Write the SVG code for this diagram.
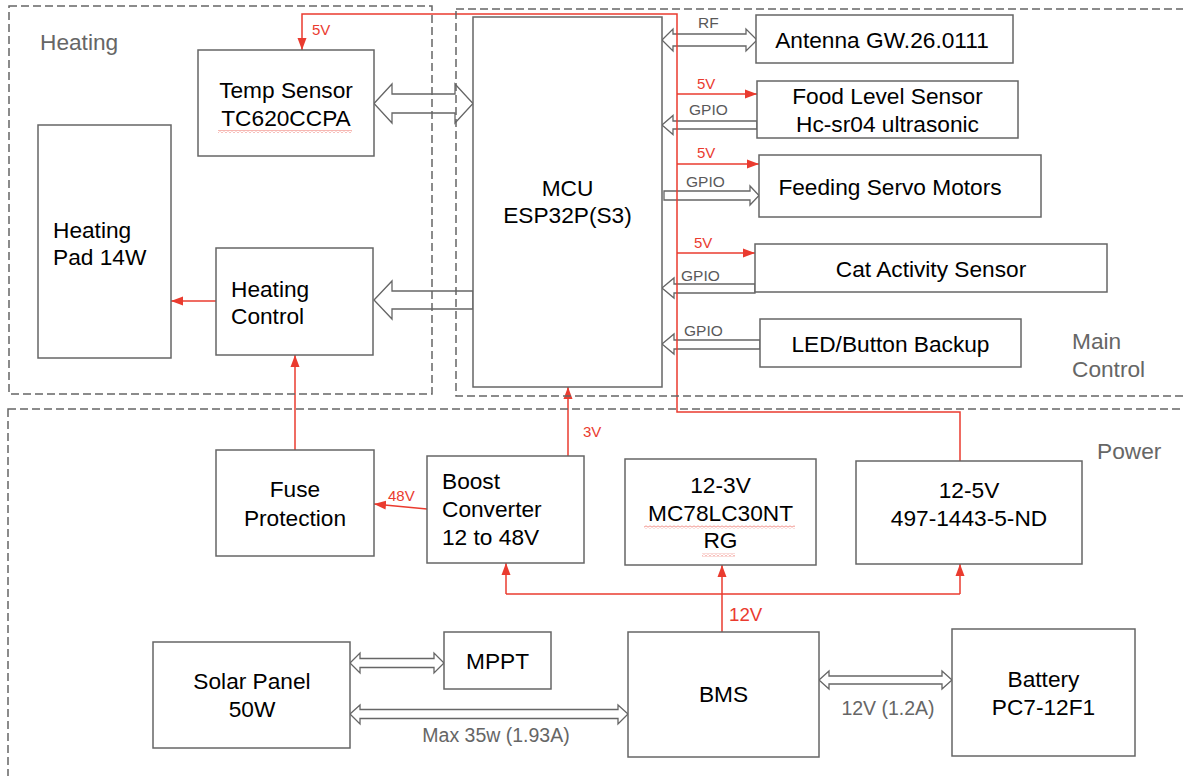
<svg xmlns="http://www.w3.org/2000/svg" width="1183" height="776" viewBox="0 0 1183 776">
<style>
text{font-family:"Liberation Sans",Arial,sans-serif}
.box{fill:#fff;stroke:#666;stroke-width:1.5}
.t{font-size:22.7px;fill:#000;text-anchor:middle}
.tl{font-size:22.7px;fill:#000}
.region{fill:none;stroke:#666;stroke-width:1.5;stroke-dasharray:8,4}
.title{font-size:22.7px;fill:#666}
.hollow{fill:#fff;stroke:#666;stroke-width:1.3;stroke-linejoin:miter}
.red{fill:none;stroke:#ea3b2f;stroke-width:1.5}
.ra{fill:none;stroke:#ea3b2f;stroke-width:1.5;marker-end:url(#ah)}
.rl{font-size:15px;fill:#ea3b2f}
.gl{font-size:15.5px;fill:#595959}
.gl2{font-size:19.5px;fill:#666}
.sq{fill:url(#squig)}
</style>
<defs>
<marker id="ah" markerUnits="userSpaceOnUse" markerWidth="13" markerHeight="10" refX="12" refY="5" orient="auto">
<path d="M0,0.5 L12,5 L0,9.5 z" fill="#ea3b2f"/>
</marker>
<pattern id="squig" patternUnits="userSpaceOnUse" width="4" height="3">
<path d="M0,2.5 L2,0.5 L4,2.5" fill="none" stroke="#e84a3d" stroke-width="0.8"/>
</pattern>
</defs>
<rect width="1183" height="776" fill="#fff"/>

<g id="connectors">
<polygon class="hollow" points="374,103.5 392,84 392,94 455,94 455,84 473,103.5 455,123 455,113 392,113 392,123"/>
<polygon class="hollow" points="374,300 392,281 392,291 473,291 473,309 392,309 392,319"/>
<polygon class="hollow" points="662,40 673,29 673,34 746,34 746,29 757,40 746,51 746,46 673,46 673,51"/>
<polygon class="hollow" points="662,125 673,115.5 673,121 757,121 757,129 673,129 673,134.5"/>
<polygon class="hollow" points="664,191 750,191 750,186 759,195.5 750,205 750,200 664,200"/>
<polygon class="hollow" points="662,288 674,278 674,284 755,284 755,293 674,293 674,298"/>
<polygon class="hollow" points="662,344 674,334 674,340 760,340 760,349 674,349 674,354"/>
<polygon class="hollow" points="350,663 360,653 360,658.5 434,658.5 434,653 444,663 434,673 434,667.5 360,667.5 360,673"/>
<polygon class="hollow" points="350,714 360,705 360,709.5 618,709.5 618,705 628,714 618,724 618,718.5 360,718.5 360,724"/>
<polygon class="hollow" points="819,680 829,671 829,676 942,676 942,671 952,680 942,689 942,684 829,684 829,689"/>

<path class="ra" d="M960,461 L960,412 L677,412 L677,14 L302,14 L302,50"/>
<path class="ra" d="M677,94 L757,94"/>
<path class="ra" d="M677,164 L759,164"/>
<path class="ra" d="M677,253 L755,253"/>
<path class="ra" d="M216,301 L171,301"/>
<path class="ra" d="M295,450 L295,355"/>
<path class="ra" d="M427,509 L374,504"/>
<path class="ra" d="M568,456 L568,387"/>
<path class="ra" d="M722,632 L722,565"/>
<path class="red" d="M506,594 L960,594"/>
<path class="ra" d="M506,594 L506,563"/>
<path class="ra" d="M960,594 L960,564"/>

<text class="rl" x="312" y="35">5V</text>
<text class="gl" x="698" y="28">RF</text>
<text class="rl" x="697" y="89">5V</text>
<text class="gl" x="689" y="115">GPIO</text>
<text class="rl" x="697" y="158">5V</text>
<text class="gl" x="686" y="187">GPIO</text>
<text class="rl" x="694" y="248">5V</text>
<text class="gl" x="681" y="281">GPIO</text>
<text class="gl" x="684" y="336">GPIO</text>
<text class="rl" x="583" y="437">3V</text>
<text class="rl" x="388" y="501">48V</text>
<text class="rl" x="729" y="621" style="font-size:18.7px">12V</text>
<text class="gl2" x="496" y="742" text-anchor="middle">Max 35w (1.93A)</text>
<text class="gl2" x="888" y="715" text-anchor="middle">12V (1.2A)</text>
</g>

<g id="regions">
<rect class="region" x="9" y="6" width="423" height="388"/>
<rect class="region" x="456" y="9" width="740" height="387"/>
<rect class="region" x="8" y="409" width="1190" height="380"/>
<text class="title" x="40" y="50">Heating</text>
<text class="title" x="1072" y="349">Main</text>
<text class="title" x="1072" y="377">Control</text>
<text class="title" x="1097" y="459">Power</text>
</g>

<g id="temp-sensor">
<rect class="box" x="198" y="50" width="176" height="106"/>
<text class="t" x="286" y="98">Temp Sensor</text>
<text class="t" x="286" y="126">TC620CCPA</text>
<rect class="sq" x="218" y="130" width="134" height="3"/>
</g>
<g id="heating-pad">
<rect class="box" x="38" y="125" width="133" height="233"/>
<text class="tl" x="53" y="238">Heating</text>
<text class="tl" x="53" y="265">Pad 14W</text>
</g>
<g id="heating-control">
<rect class="box" x="216" y="248" width="157" height="107"/>
<text class="tl" x="231" y="297">Heating</text>
<text class="tl" x="231" y="324">Control</text>
</g>
<g id="mcu">
<rect class="box" x="473" y="17" width="189" height="370"/>
<text class="t" x="567.5" y="196">MCU</text>
<text class="t" x="567.5" y="223">ESP32P(S3)</text>
</g>
<g id="antenna">
<rect class="box" x="756" y="15" width="257" height="48"/>
<text class="t" x="882" y="48">Antenna GW.26.0111</text>
</g>
<g id="food-level">
<rect class="box" x="757" y="81" width="261" height="57"/>
<text class="t" x="887.5" y="104">Food Level Sensor</text>
<text class="t" x="887.5" y="132">Hc-sr04 ultrasonic</text>
</g>
<g id="feeding-servo">
<rect class="box" x="759" y="155" width="282" height="62"/>
<text class="t" x="890" y="195">Feeding Servo Motors</text>
</g>
<g id="cat-activity">
<rect class="box" x="755" y="244" width="352" height="48"/>
<text class="t" x="931" y="277">Cat Activity Sensor</text>
</g>
<g id="led-button">
<rect class="box" x="760" y="319" width="261" height="48"/>
<text class="t" x="890.5" y="352">LED/Button Backup</text>
</g>
<g id="fuse">
<rect class="box" x="216" y="450" width="158" height="106"/>
<text class="t" x="295" y="497">Fuse</text>
<text class="t" x="295" y="526">Protection</text>
</g>
<g id="boost">
<rect class="box" x="427" y="456" width="157" height="107"/>
<text class="tl" x="442" y="489">Boost</text>
<text class="tl" x="442" y="517">Converter</text>
<text class="tl" x="442" y="545">12 to 48V</text>
</g>
<g id="reg-3v">
<rect class="box" x="625" y="459" width="191" height="106"/>
<text class="t" x="720.5" y="493">12-3V</text>
<text class="t" x="720.5" y="521">MC78LC30NT</text>
<text class="t" x="720.5" y="548">RG</text>
<rect class="sq" x="644" y="525.5" width="151" height="3"/>
<rect class="sq" x="702" y="553.5" width="33" height="3"/>
</g>
<g id="reg-5v">
<rect class="box" x="856" y="461" width="226" height="103"/>
<text class="t" x="969" y="498">12-5V</text>
<text class="t" x="969" y="526">497-1443-5-ND</text>
</g>
<g id="solar">
<rect class="box" x="153" y="642" width="197" height="106"/>
<text class="t" x="252" y="689">Solar Panel</text>
<text class="t" x="252" y="717">50W</text>
</g>
<g id="mppt">
<rect class="box" x="444" y="632" width="107" height="57"/>
<text class="t" x="497.5" y="669">MPPT</text>
</g>
<g id="bms">
<rect class="box" x="628" y="632" width="191" height="125"/>
<text class="t" x="723.5" y="702">BMS</text>
</g>
<g id="battery">
<rect class="box" x="952" y="629" width="183" height="127"/>
<text class="t" x="1043.5" y="687">Battery</text>
<text class="t" x="1043.5" y="715">PC7-12F1</text>
</g>
</svg>
